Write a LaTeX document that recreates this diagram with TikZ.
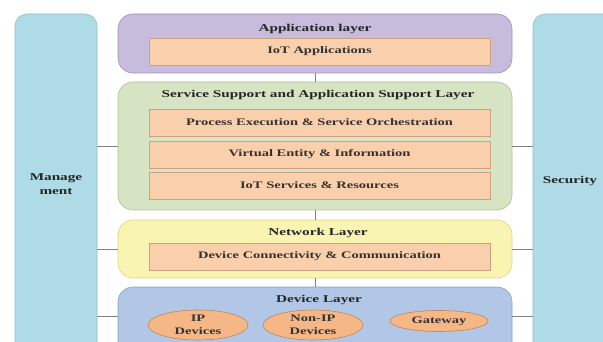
\documentclass[tikz,border=0pt]{standalone}
\usepackage{fontspec}
\setmainfont[FakeStretch=1.45]{Liberation Serif}
\usetikzlibrary{shapes.geometric}
\definecolor{sidefill}{RGB}{174,219,229}
\definecolor{sidedraw}{RGB}{150,190,200}
\definecolor{appfill}{RGB}{200,188,220}
\definecolor{appdraw}{RGB}{160,145,185}
\definecolor{svcfill}{RGB}{215,228,196}
\definecolor{svcdraw}{RGB}{175,192,155}
\definecolor{netfill}{RGB}{250,244,178}
\definecolor{netdraw}{RGB}{222,212,135}
\definecolor{devfill}{RGB}{178,198,230}
\definecolor{devdraw}{RGB}{140,160,200}
\definecolor{itemfill}{RGB}{250,207,172}
\definecolor{itemdraw}{RGB}{205,160,130}
\definecolor{ovalfill}{RGB}{245,183,133}
\definecolor{ovaldraw}{RGB}{190,135,95}
\definecolor{linkgray}{RGB}{130,130,130}
\tikzset{
  sidebox/.style={draw=sidedraw, fill=sidefill, rounded corners=12pt, line width=0.6pt},
  layer/.style={rounded corners=15pt, line width=0.6pt},
  item/.style={draw=itemdraw, fill=itemfill, line width=0.5pt,
    minimum width=341pt, minimum height=27pt,
    font=\fontsize{10}{12}\selectfont\bfseries, text=black!80},
  label/.style={font=\fontsize{10.5}{12}\selectfont\bfseries, text=black!85},
  oval/.style={ellipse, draw=ovaldraw, fill=ovalfill, line width=0.6pt, inner sep=0pt,
    font=\fontsize{10}{11}\selectfont\bfseries, text=black!80, align=center},
  link/.style={draw=linkgray, line width=0.9pt}
}
\begin{document}
\begin{tikzpicture}[x=1pt,y=-1pt]
\useasboundingbox (0,0) rectangle (603,342);
\clip (0,0) rectangle (603,342);
\fill[white] (0,0) rectangle (603,342);

% side columns
\draw[sidebox] (15,14) rectangle (97,360);
\draw[sidebox] (533,14) rectangle (620,360);
\node[label, align=center] (mgmt) at (56,184) {Manage\\[2pt]ment};
\node[label] (sec) at (570,181) {Security};

% layers
\draw[layer, draw=appdraw, fill=appfill] (118,14) rectangle (512,73);
\draw[layer, draw=svcdraw, fill=svcfill] (118,82) rectangle (512,210);
\draw[layer, draw=netdraw, fill=netfill] (118,220) rectangle (512,278);
\draw[layer, draw=devdraw, fill=devfill] (118,287) rectangle (512,370);

\coordinate (appT) at (315,73);
\coordinate (svcT) at (315,82);
\coordinate (svcB) at (315,210);
\coordinate (netT) at (315,220);
\coordinate (netB) at (315,278);
\coordinate (devT) at (315,287);

% layer titles
\node[label] (appname) at (315,29) {Application layer};
\node[label] (svcname) at (318,95) {Service Support and Application Support Layer};
\node[label] (netname) at (318,233) {Network Layer};
\node[label] (devname) at (319,300) {Device Layer};

% function blocks
\node[item] (iotapp) at (319.5,51.5) {IoT Applications};
\node[item] (proc) at (319.5,122.5) {Process Execution \& Service Orchestration};
\node[item] (virt) at (319.5,154.5) {Virtual Entity \& Information};
\node[item] (svc) at (319.5,185.5) {IoT Services \& Resources};
\node[item] (conn) at (319.5,256.5) {Device Connectivity \& Communication};

% devices
\node[oval, minimum width=100pt, minimum height=30pt] (ip) at (198,325) {IP\\[2pt]Devices};
\node[oval, minimum width=100pt, minimum height=30pt] (nonip) at (313,325) {Non-IP\\[2pt]Devices};
\node[oval, minimum width=98pt, minimum height=21pt] (gw) at (439,321) {Gateway};

% vertical links between layers
\draw[link] (appT) -- (svcT);
\draw[link] (svcB) -- (netT);
\draw[link] (netB) -- (devT);

% links to the side columns
\foreach \yy in {146,249,316}{
  \draw[link] (97,\yy) -- (118,\yy);
  \draw[link] (512,\yy) -- (533,\yy);
}
\end{tikzpicture}
\end{document}
